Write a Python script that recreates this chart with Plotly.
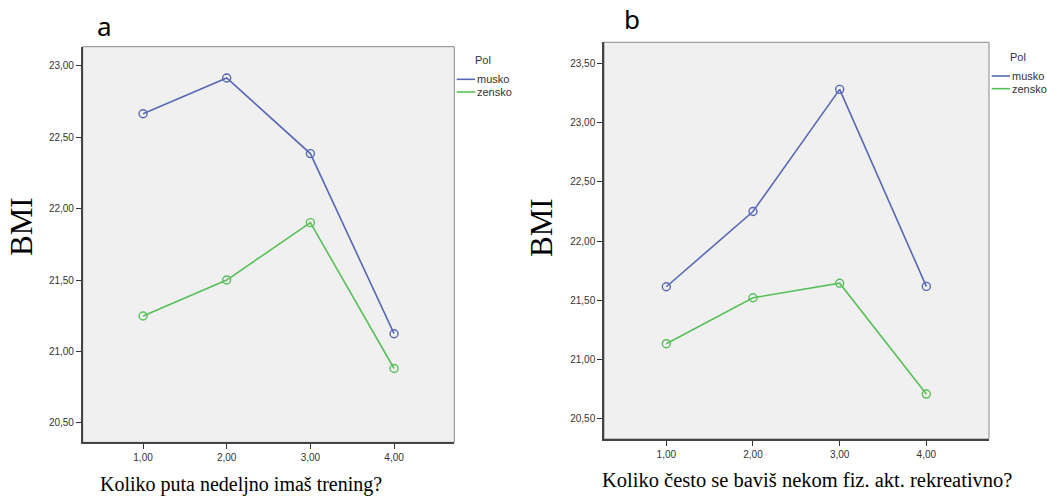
import plotly.graph_objects as go

x_vals = [1, 2, 3, 4]
x_ticklabels = ["1,00", "2,00", "3,00", "4,00"]

a_musko = [22.665, 22.916, 22.386, 21.124]
a_zensko = [21.248, 21.500, 21.902, 20.880]

b_musko = [21.615, 22.250, 23.280, 21.618]
b_zensko = [21.135, 21.522, 21.645, 20.710]

series_names = ["musko", "zensko"]
legend_title = "Pol"
colors = ["#5868b8", "#58c058"]

W, H = 1047, 496


def px_x(p):
    return p / W


def px_y(p):
    return 1 - p / H


fig = go.Figure()

panels = [
    ("x", "y", a_musko, a_zensko),
    ("x2", "y2", b_musko, b_zensko),
]
for xa, ya, m, z in panels:
    for name, vals, col in zip(series_names, [m, z], colors):
        fig.add_trace(go.Scatter(
            x=x_vals, y=vals, xaxis=xa, yaxis=ya, mode="lines+markers",
            line=dict(color=col, width=1.6),
            marker=dict(symbol="circle-open", size=8, color=col, line=dict(width=1.4)),
            showlegend=False, name=name))

tickfont = dict(family="Liberation Sans, Arial", size=10, color="#333333")
common_x = dict(tickvals=x_vals, ticktext=x_ticklabels, ticks="outside", ticklen=5,
                tickcolor="#333333", showgrid=False, zeroline=False, showline=True,
                linecolor="#444444", linewidth=1.5, tickfont=tickfont, mirror=False)
common_y = dict(tickformat=".2f", dtick=0.5, ticks="outside", ticklen=5, tickcolor="#333333",
                showgrid=False, zeroline=False, showline=True, linecolor="#444444",
                linewidth=1.5, tickfont=tickfont, mirror=False)

fig.update_layout(
    width=W, height=H, margin=dict(l=0, r=0, t=0, b=0),
    paper_bgcolor="white", plot_bgcolor="#f0f0f0",
    separators=",.",
    showlegend=False,
    xaxis=dict(domain=[px_x(82.7), px_x(454.3)], range=[0.279, 4.72], anchor="y", **common_x),
    yaxis=dict(domain=[px_y(442.3), px_y(46.7)], range=[20.363, 23.135], anchor="x",
               tick0=20.5, **common_y),
    xaxis2=dict(domain=[px_x(604), px_x(989)], range=[0.281, 4.723], anchor="y2", **common_x),
    yaxis2=dict(domain=[px_y(439), px_y(42.3)], range=[20.331, 23.677], anchor="x2",
                tick0=20.5, **common_y),
)

# top/right lighter frame
for xr, yr in [("x domain", "y domain"), ("x2 domain", "y2 domain")]:
    fig.add_shape(type="rect", xref=xr, yref=yr, x0=0, x1=1, y0=0, y1=1,
                  line=dict(color="#8a8a8a", width=1), layer="below")

# legends (one per panel), in page pixels
legend_font = dict(family="Liberation Sans, Arial", size=11, color="#333333")
legend_specs = [
    dict(line_x0=456.7, line_x1=475, text_x=477, ys=[79.3, 92.0], title_x=483, title_y=60),
    dict(line_x0=991.7, line_x1=1010, text_x=1012, ys=[76.0, 88.7], title_x=1018, title_y=57),
]
for spec in legend_specs:
    fig.add_annotation(xref="paper", yref="paper", showarrow=False, text=legend_title,
                       x=px_x(spec["title_x"]), y=px_y(spec["title_y"]),
                       xanchor="center", yanchor="middle", font=legend_font)
    for name, col, yy in zip(series_names, colors, spec["ys"]):
        fig.add_shape(type="line", xref="paper", yref="paper",
                      x0=px_x(spec["line_x0"]), x1=px_x(spec["line_x1"]),
                      y0=px_y(yy), y1=px_y(yy), line=dict(color=col, width=1.6))
        fig.add_annotation(xref="paper", yref="paper", showarrow=False, text=name,
                           x=px_x(spec["text_x"]), y=px_y(yy), xanchor="left",
                           yanchor="middle", font=legend_font, xshift=-2)

serif = "Liberation Serif, Times New Roman, serif"
sans = "Noto Sans, Open Sans, sans-serif"
annos = [
    dict(text="a", x=px_x(104), y=px_y(26), font=dict(family=sans, size=26, color="black")),
    dict(text="b", x=px_x(632), y=px_y(19), font=dict(family=sans, size=26, color="black")),
    dict(text="BMI", x=px_x(21), y=px_y(227), textangle=-90,
         font=dict(family=serif, size=31, color="black")),
    dict(text="BMI", x=px_x(541), y=px_y(228), textangle=-90,
         font=dict(family=serif, size=31, color="black")),
    dict(text="Koliko puta nedeljno imaš trening?", x=px_x(241), y=px_y(484),
         font=dict(family=serif, size=20, color="black")),
    dict(text="Koliko često se baviš nekom fiz. akt. rekreativno?", x=px_x(807), y=px_y(480),
         font=dict(family=serif, size=20.5, color="black")),
]
for a in annos:
    fig.add_annotation(xref="paper", yref="paper", showarrow=False,
                       xanchor="center", yanchor="middle", **a)

fig.write_html("out.html", config={"displayModeBar": False},
               post_script="document.body.style.margin='0';")
